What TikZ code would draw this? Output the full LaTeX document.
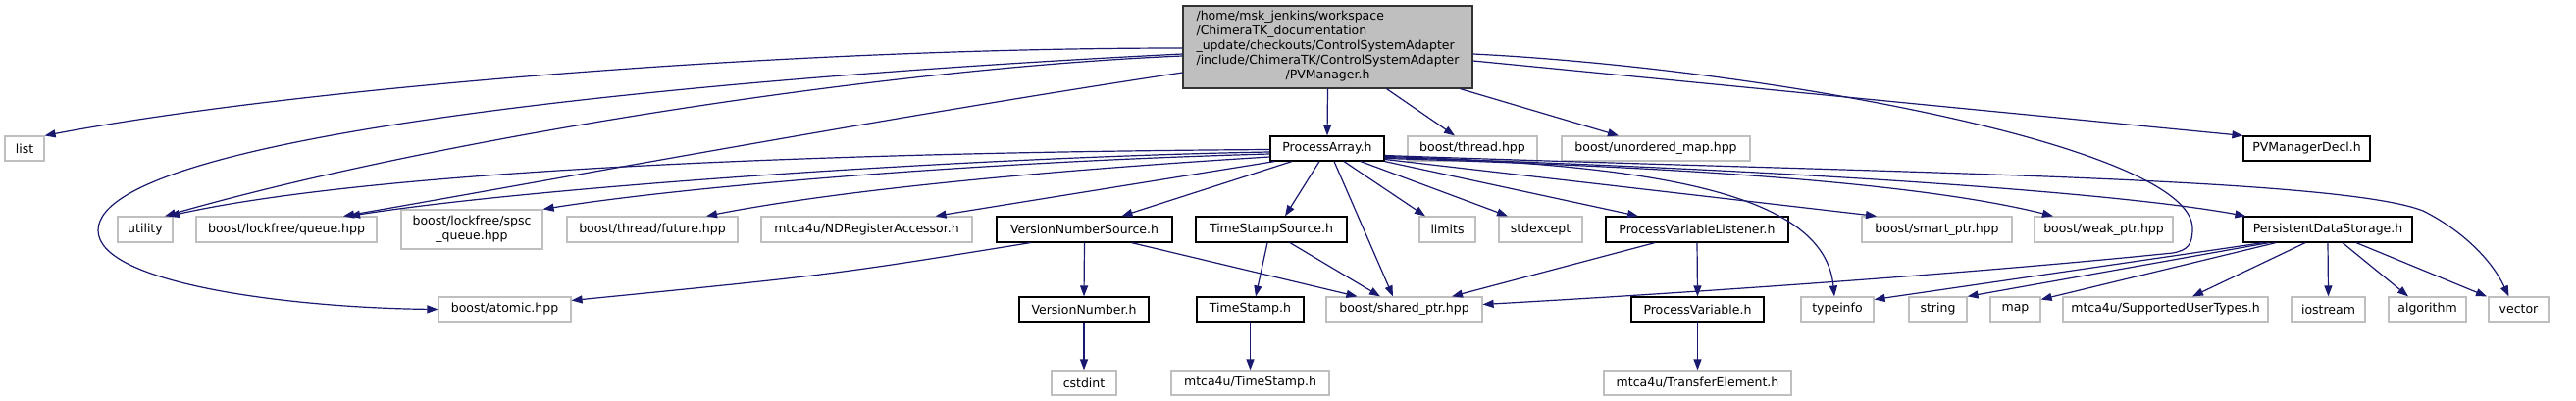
\documentclass[tikz,border=0pt]{standalone}
\usepackage{fontspec}
\setmainfont{DejaVu Sans}
\usetikzlibrary{arrows.meta,calc}
\definecolor{edgecol}{HTML}{191970}
\definecolor{greyb}{HTML}{BFBFBF}
\tikzset{
  box/.style={draw, line width=1.2pt, inner sep=0pt, minimum height=25pt, font=\fontsize{12.5}{15}\selectfont},
  gbox/.style={box, draw=greyb, fill=white},
  bbox/.style={box, draw=black, fill=white},
  edge/.style={draw=edgecol, line width=1.2pt, -{Triangle[length=11pt,width=8pt]}},
}
\begin{document}
\begin{tikzpicture}[x=1pt,y=-1pt]
\fill[white] (0,0) rectangle (2626,409);
\useasboundingbox (0,0) rectangle (2626,409);

% main node
\node[box, draw=black!80, fill=greyb, minimum width=295pt, minimum height=84pt] (main) at (1353.5,48)
 {\begin{tabular}{@{}l@{}}/home/msk\_jenkins/workspace\\/ChimeraTK\_documentation\\\_update/checkouts/ControlSystemAdapter\\/include/ChimeraTK/ControlSystemAdapter\\\multicolumn{1}{@{}c@{}}{/PVManager.h}\end{tabular}};

% row 1
\node[gbox, minimum width=40pt] (list) at (25,151.5) {list};
\node[bbox, minimum width=116pt] (pa) at (1353,151.5) {ProcessArray.h};
\node[gbox, minimum width=132pt] (thread) at (1501,151.5) {boost/thread.hpp};
\node[gbox, minimum width=192pt] (unord) at (1688,151.5) {boost/unordered\_map.hpp};
\node[bbox, minimum width=129pt] (pvmd) at (2351.5,151.5) {PVManagerDecl.h};

% row 2
\node[gbox, minimum width=56pt, minimum height=26pt] (utility) at (148,234) {utility};
\node[gbox, minimum width=184pt, minimum height=26pt] (queue) at (292,234) {boost/lockfree/queue.hpp};
\node[gbox, minimum width=144pt, minimum height=40pt, align=center] (spsc) at (481,234) {boost/lockfree/spsc\\\_queue.hpp};
\node[gbox, minimum width=174pt, minimum height=26pt] (future) at (665,234) {boost/thread/future.hpp};
\node[gbox, minimum width=215pt, minimum height=26pt] (nd) at (883.5,234) {mtca4u/NDRegisterAccessor.h};
\node[bbox, minimum width=179pt, minimum height=26pt] (vns) at (1105.5,234) {VersionNumberSource.h};
\node[bbox, minimum width=154pt, minimum height=26pt] (tss) at (1296,234) {TimeStampSource.h};
\node[gbox, minimum width=57pt, minimum height=26pt] (limits) at (1475.5,234) {limits};
\node[gbox, minimum width=85pt, minimum height=26pt] (stdexcept) at (1570.5,234) {stdexcept};
\node[bbox, minimum width=186pt, minimum height=26pt] (pvl) at (1730,234) {ProcessVariableListener.h};
\node[gbox, minimum width=153pt, minimum height=26pt] (smart) at (1974.5,234) {boost/smart\_ptr.hpp};
\node[gbox, minimum width=141pt, minimum height=26pt] (weak) at (2144.5,234) {boost/weak\_ptr.hpp};
\node[bbox, minimum width=172pt, minimum height=26pt] (pds) at (2373,234) {PersistentDataStorage.h};

% row 3
\node[gbox, minimum width=135pt] (atomic) at (514.5,315.5) {boost/atomic.hpp};
\node[bbox, minimum width=132pt] (vn) at (1105,315.5) {VersionNumber.h};
\node[bbox, minimum width=109pt] (ts) at (1274.5,315.5) {TimeStamp.h};
\node[gbox, minimum width=159pt] (shared) at (1431.5,315.5) {boost/shared\_ptr.hpp};
\node[bbox, minimum width=135pt] (pv) at (1730.5,315.5) {ProcessVariable.h};
\node[gbox, minimum width=74pt] (typeinfo) at (1873,315.5) {typeinfo};
\node[gbox, minimum width=59pt] (string) at (1975.5,315.5) {string};
\node[gbox, minimum width=51pt] (map) at (2054.5,315.5) {map};
\node[gbox, minimum width=209pt] (sut) at (2207.5,315.5) {mtca4u/SupportedUserTypes.h};
\node[gbox, minimum width=75pt] (iostream) at (2373.5,315.5) {iostream};
\node[gbox, minimum width=79pt] (algorithm) at (2474.5,315.5) {algorithm};
\node[gbox, minimum width=61pt] (vector) at (2567.5,315.5) {vector};

% row 4
\node[gbox, minimum width=66pt] (cstdint) at (1105,390.5) {cstdint};
\node[gbox, minimum width=161pt] (mts) at (1274.5,390.5) {mtca4u/TimeStamp.h};
\node[gbox, minimum width=191pt] (te) at (1730.5,390.5) {mtca4u/TransferElement.h};

% edges from main
\draw[edge] ([yshift=-1pt]main.west) .. controls (800,49) and (300,90) .. (list.north east);
\draw[edge] ([yshift=-7pt]main.west) .. controls (800,75) and (100,130) .. (100,235) .. controls (100,290) and (300,314) .. (atomic.west);
\draw[edge] ([yshift=-9pt]main.west) .. controls (900,70) and (450,140) .. ([xshift=20pt]utility.north);
\draw[edge] ([yshift=-26pt]main.west) .. controls (900,120) and (500,195) .. ([xshift=58pt]queue.north);
\draw[edge] (main.south) -- (pa.north);
\draw[edge] ([xshift=60pt]main.south) -- ([xshift=-18pt]thread.north);
\draw[edge] ([xshift=135pt]main.south) -- ([xshift=-38pt]unord.north);
\draw[edge] ([yshift=-14pt]main.east) -- (pvmd.north west);
\draw[edge] ([yshift=-7pt]main.east) .. controls (1800,70) and (2235,150) .. (2235,233) .. controls (2235,250) and (2230,255) .. (2215,258) .. controls (2000,280) and (1700,300) .. ([yshift=5pt]shared.east);

% edges from ProcessArray
\draw[edge] ([yshift=-1pt]pa.west) .. controls (900,155) and (400,170) .. ([xshift=24pt]utility.north);
\draw[edge] ([yshift=-3.5pt]pa.west) .. controls (1000,160) and (550,190) .. ([xshift=64pt]queue.north);
\draw[edge] ([yshift=-5.5pt]pa.west) .. controls (1000,165) and (700,190) .. (spsc.north east);
\draw[edge] ([yshift=-8.5pt]pa.west) .. controls (1050,175) and (850,195) .. ([xshift=55pt]future.north);
\draw[edge] ([xshift=5pt]pa.south west) -- ([xshift=70pt]nd.north);
\draw[edge] ([xshift=-36pt]pa.south) -- ([xshift=38pt]vns.north);
\draw[edge] ([xshift=-8pt]pa.south) -- ([xshift=14pt]tss.north);
\draw[edge] ([xshift=7pt]pa.south) -- ([xshift=-11.5pt]shared.north);
\draw[edge] ([xshift=17pt]pa.south) -- ([xshift=-22.5pt]limits.north);
\draw[edge] ([xshift=34pt]pa.south) -- ([xshift=-33.5pt]stdexcept.north);
\draw[edge] (pa.south east) -- ([xshift=-60pt]pvl.north);
\draw[edge] ([yshift=-8pt]pa.east) .. controls (1700,168) and (1860,200) .. ([xshift=-3pt]typeinfo.north);
\draw[edge] ([yshift=-11pt]pa.east) -- ([xshift=-61.5pt]smart.north);
\draw[edge] ([yshift=-10pt]pa.east) .. controls (1700,170) and (1950,185) .. ([xshift=-51.5pt]weak.north);
\draw[edge] ([yshift=-9pt]pa.east) .. controls (1800,172) and (2150,195) .. ([xshift=3pt]pds.north west);
\draw[edge] ([yshift=-7pt]pa.east) .. controls (1900,176) and (2380,180) .. (2470,215) .. controls (2510,235) and (2540,265) .. ([xshift=-10pt]vector.north);

% VersionNumberSource, TimeStampSource, ProcessVariableListener
\draw[edge] ([xshift=-55pt]vns.south) .. controls (850,280) .. ([yshift=9pt]atomic.east);
\draw[edge] (vns.south) -- (vn.north);
\draw[edge] ([xshift=48pt]vns.south) -- ([xshift=-48pt]shared.north);
\draw[edge] ([xshift=-4pt]tss.south) -- ([xshift=5.5pt]ts.north);
\draw[edge] ([xshift=19pt]tss.south) -- ([xshift=-24.5pt]shared.north);
\draw[edge] ([xshift=-43pt]pvl.south) -- ([xshift=48.5pt]shared.north);
\draw[edge] (pvl.south) -- (pv.north);
\draw[edge] (pv.south) -- (te.north);
\draw[edge] (vn.south) -- (cstdint.north);
\draw[edge] (ts.south) -- (mts.north);

% PersistentDataStorage
\draw[edge] ([xshift=-66pt]pds.south) -- ([yshift=10pt]typeinfo.east);
\draw[edge] ([xshift=-60pt]pds.south) -- (string.north east);
\draw[edge] ([xshift=-53pt]pds.south) -- ([yshift=10pt]map.east);
\draw[edge] ([xshift=-23pt]pds.south) -- ([xshift=27.5pt]sut.north);
\draw[edge] (pds.south) -- (iostream.north);
\draw[edge] ([xshift=15pt]pds.south) -- ([xshift=-19.5pt]algorithm.north);
\draw[edge] ([xshift=29pt]pds.south) -- ([xshift=-32.5pt]vector.north);
\end{tikzpicture}
\end{document}
